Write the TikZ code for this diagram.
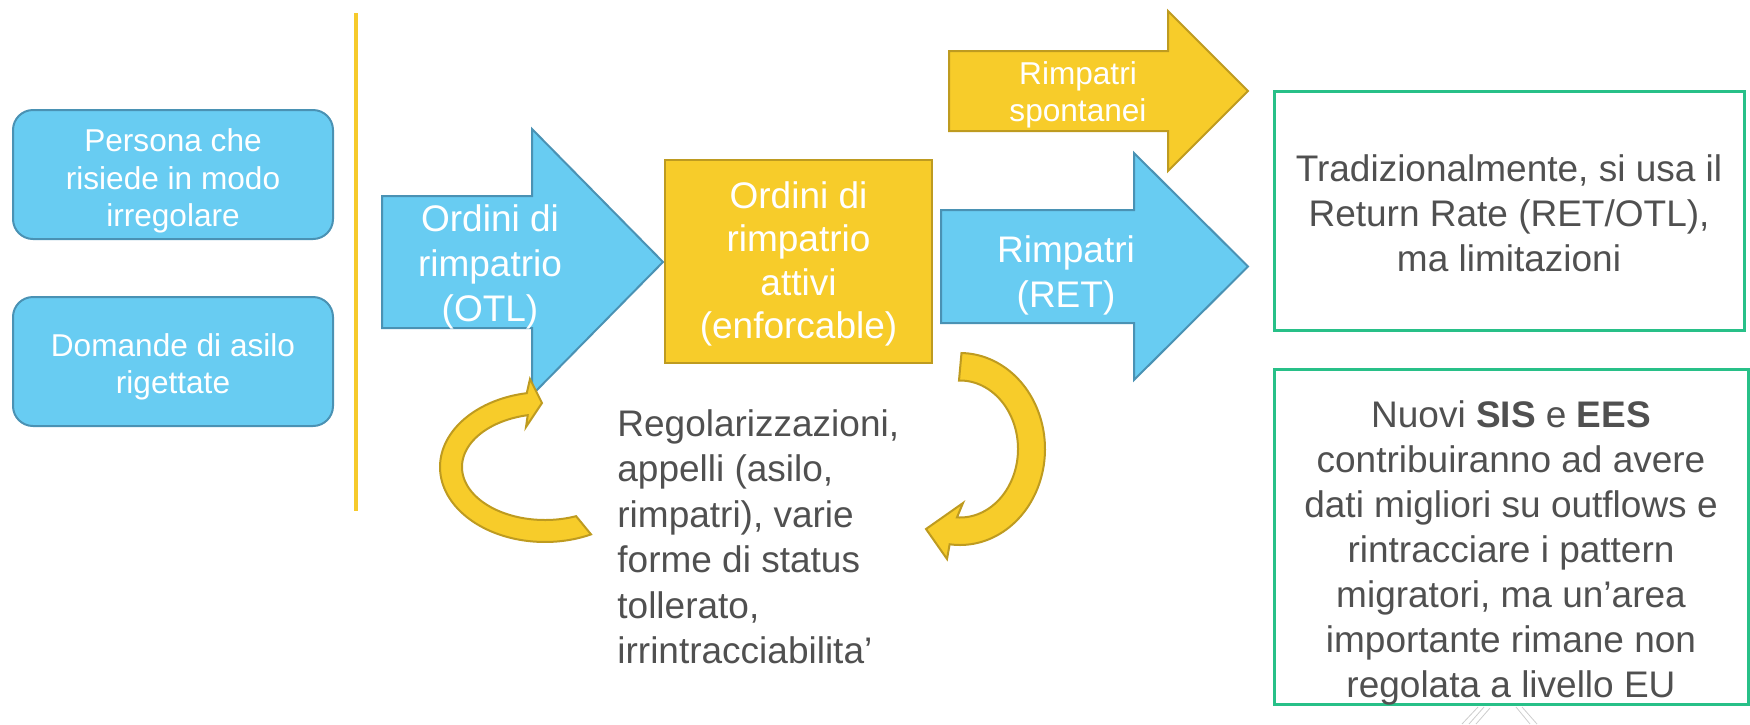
\documentclass[tikz,border=0pt]{standalone}
\usepackage{fontspec}
\setmainfont{Liberation Sans}
\definecolor{bluefill}{RGB}{104,204,242}
\definecolor{bluedark}{RGB}{74,146,180}
\definecolor{yellfill}{RGB}{247,204,42}
\definecolor{yelldark}{RGB}{190,155,32}
\definecolor{greenline}{RGB}{40,192,136}
\definecolor{textgray}{RGB}{80,80,80}
\definecolor{vyellow}{RGB}{246,202,44}
\definecolor{faint}{RGB}{205,205,205}
\begin{document}
\begin{tikzpicture}[x=0.5pt,y=-0.5pt,
  bigtxt/.style={font=\fontsize{18.5}{22.5}\selectfont, align=center},
  smalltxt/.style={font=\fontsize{15.8}{18.75}\selectfont, align=center},
  lbox/.style={draw=bluedark, fill=bluefill, line width=1pt, rounded corners=10pt,
     minimum width=160pt, minimum height=64.5pt, inner sep=0pt},
  ybox/.style={draw=yelldark, fill=yellfill, line width=1pt, inner sep=0pt, text=white, bigtxt},
  gbox/.style={draw=greenline, line width=1.5pt, inner sep=0pt},
  blockblue/.style={draw=bluedark, fill=bluefill, line width=1pt, line join=miter},
  blockyel/.style={draw=yelldark, fill=yellfill, line width=1pt, line join=miter},
  vline/.style={draw=vyellow, line width=1.6pt},
  wtxt/.style={text=white, inner sep=0pt},
  gtxt/.style={text=textgray, inner sep=0pt, bigtxt},
]
\useasboundingbox (0,0) rectangle (1750,724);

% left boxes
\node[lbox] (p1) at (173,174.5) {};
\node[wtxt, smalltxt] (p1t) at (173,181) {Persona che\\risiede in modo\\irregolare};
\node[lbox] (p2) at (173,361.5) {};
\node[wtxt, smalltxt] (p2t) at (173,367) {Domande di asilo\\rigettate};

% vertical separator
\draw[vline] (356,13) -- (356,511);

% OTL block arrow
\path[blockblue] (382,196) -- (532,196) -- (532,129) -- (663,262) -- (532,395) -- (532,328) -- (382,328) -- cycle;
\node[wtxt, bigtxt] (otl) at (490,267) {Ordini di\\rimpatrio\\(OTL)};

% active orders box
\node[ybox, minimum width=133.5pt, minimum height=101.5pt] (att) at (798.5,261.5) {};
\node[wtxt, font=\fontsize{18.5}{21.8}\selectfont, align=center] (attt) at (798.5,264) {Ordini di\\rimpatrio\\attivi\\(enforcable)};

% RET block arrow
\path[blockblue] (941,210) -- (1134,210) -- (1134,153) -- (1248,266.5) -- (1134,380) -- (1134,323) -- (941,323) -- cycle;
\node[wtxt, bigtxt] (ret) at (1066,275) {Rimpatri\\(RET)};

% spontaneous returns arrow
\path[blockyel] (949,51) -- (1168,51) -- (1168,11) -- (1248,91) -- (1168,171) -- (1168,131) -- (949,131) -- cycle;
\node[wtxt, smalltxt] (spo) at (1078,95) {Rimpatri\\spontanei};

% left circular arrow
\path[blockyel] plot[domain=64:260, samples=80, variable=\t] ({545+105*cos(\t)},{467+75*sin(\t)})
  -- (530,379) -- (542,403) -- (526,427)
  -- plot[domain=258:68, samples=80, variable=\t] ({545+83*cos(\t)},{467+53*sin(\t)}) -- cycle;

% right circular arrow
\path[blockyel] plot[domain=-89:97, samples=80, variable=\t] ({960+85*cos(\t)},{449+96*sin(\t)})
  -- (947,559) -- (926,529) -- (963,503)
  -- plot[domain=93:-91, samples=80, variable=\t] ({960+58*cos(\t)},{449+68.5*sin(\t)}) -- cycle;

% bottom text
\node[text=textgray, font=\fontsize{18.5}{22.75}\selectfont, align=left, anchor=west, inner sep=0pt] (reg) at (617,537)
  {Regolarizzazioni,\\appelli (asilo,\\rimpatri), varie\\forme di status\\tollerato,\\irrintracciabilita’};

% right boxes
\node[gbox, minimum width=235pt, minimum height=119.5pt] (rr) at (1509,210.5) {};
\node[gtxt] (rrt) at (1509,213) {Tradizionalmente, si usa il\\Return Rate (RET/OTL),\\ma limitazioni};
\node[gbox, minimum width=237pt, minimum height=167.5pt] (sis) at (1511,536.5) {};
\node[gtxt] (sist) at (1511,553) {Nuovi \textbf{SIS} e \textbf{EES}\\contribuiranno ad avere\\dati migliori su outflows e\\rintracciare i pattern\\migratori, ma un’area\\importante rimane non\\regolata a livello EU};

% faint logo fragment
\draw[faint, line width=0.4pt] (1478,707) -- (1462,724) (1484,707) -- (1469,724) (1490,708) -- (1476,724);
\draw[faint, line width=0.4pt] (1516,707) -- (1530,724) (1522,707) -- (1537,724);
\end{tikzpicture}
\end{document}
